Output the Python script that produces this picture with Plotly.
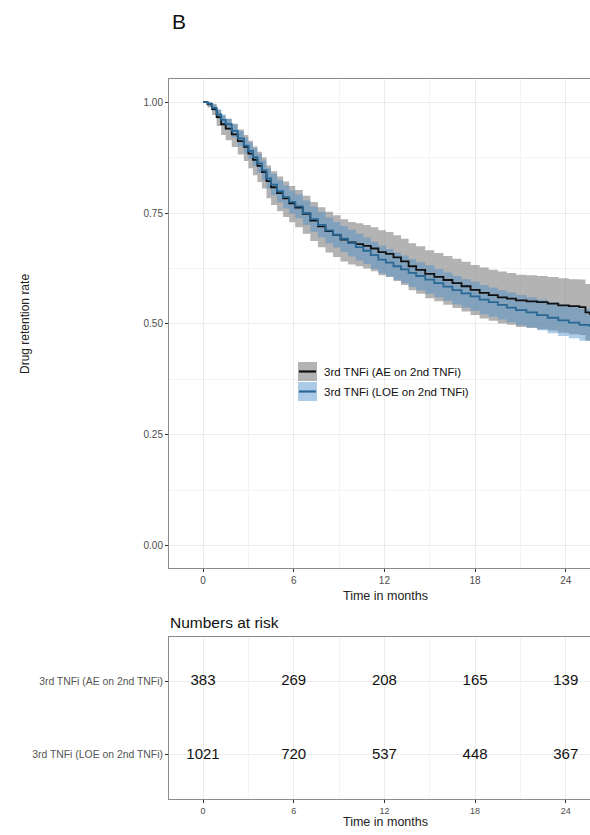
import plotly.graph_objects as go

# ---------------- data ----------------
ae_t = [0.0, 0.3, 0.6, 0.9, 1.2, 1.5, 1.9, 2.3, 2.7, 3.0, 3.3, 3.6, 3.9, 4.2, 4.5, 4.9, 5.3, 5.7,
        6.1, 6.6, 7.1, 7.6, 8.1, 8.6, 9.1, 9.6, 10.1, 10.6, 11.1, 11.6, 12.1, 12.6, 13.1, 13.6,
        14.1, 14.7, 15.3, 15.9, 16.5, 17.1, 17.7, 18.3, 18.9, 19.5, 20.1, 20.7, 21.4, 22.1, 22.8,
        23.5, 24.2, 24.9, 25.3, 25.6]
ae_s = [1.000, 0.995, 0.984, 0.966, 0.950, 0.940, 0.927, 0.912, 0.899, 0.884, 0.870, 0.856, 0.842,
        0.822, 0.808, 0.795, 0.783, 0.772, 0.762, 0.748, 0.733, 0.720, 0.709, 0.700, 0.690, 0.684,
        0.680, 0.676, 0.670, 0.662, 0.658, 0.650, 0.641, 0.630, 0.622, 0.613, 0.606, 0.599, 0.592,
        0.585, 0.577, 0.570, 0.565, 0.560, 0.557, 0.553, 0.551, 0.549, 0.546, 0.542, 0.540, 0.538,
        0.526, 0.520]
ae_lo = [1.000, 0.988, 0.971, 0.946, 0.926, 0.914, 0.899, 0.882, 0.867, 0.851, 0.835, 0.820, 0.805,
         0.783, 0.768, 0.754, 0.741, 0.729, 0.718, 0.703, 0.687, 0.673, 0.661, 0.651, 0.641, 0.634,
         0.630, 0.625, 0.619, 0.610, 0.606, 0.597, 0.588, 0.576, 0.568, 0.558, 0.551, 0.543, 0.536,
         0.528, 0.520, 0.512, 0.507, 0.501, 0.498, 0.493, 0.491, 0.488, 0.485, 0.480, 0.477, 0.475,
         0.462, 0.455]
ae_hi = [1.000, 1.000, 0.996, 0.983, 0.970, 0.962, 0.951, 0.938, 0.926, 0.913, 0.900, 0.888, 0.875,
         0.857, 0.844, 0.832, 0.821, 0.811, 0.802, 0.789, 0.775, 0.763, 0.753, 0.745, 0.736, 0.730,
         0.727, 0.723, 0.718, 0.711, 0.707, 0.700, 0.692, 0.682, 0.675, 0.666, 0.660, 0.653, 0.647,
         0.640, 0.633, 0.627, 0.622, 0.618, 0.615, 0.611, 0.610, 0.608, 0.606, 0.603, 0.601, 0.600,
         0.590, 0.585]

loe_t = [0.0, 0.3, 0.6, 0.9, 1.2, 1.5, 1.9, 2.3, 2.7, 3.0, 3.3, 3.6, 3.9, 4.2, 4.5, 4.9, 5.3, 5.7,
         6.1, 6.6, 7.1, 7.6, 8.1, 8.6, 9.1, 9.6, 10.1, 10.6, 11.1, 11.6, 12.1, 12.6, 13.1, 13.6,
         14.1, 14.7, 15.3, 15.9, 16.5, 17.1, 17.7, 18.3, 18.9, 19.5, 20.1, 20.7, 21.4, 22.1, 22.8,
         23.5, 24.2, 24.9, 25.6]
loe_s = [1.000, 0.996, 0.987, 0.972, 0.960, 0.950, 0.935, 0.918, 0.902, 0.890, 0.876, 0.862, 0.846,
         0.828, 0.814, 0.799, 0.786, 0.775, 0.765, 0.750, 0.736, 0.723, 0.711, 0.701, 0.692, 0.682,
         0.673, 0.665, 0.655, 0.645, 0.638, 0.630, 0.623, 0.615, 0.608, 0.600, 0.592, 0.584, 0.576,
         0.569, 0.562, 0.555, 0.549, 0.543, 0.537, 0.531, 0.526, 0.520, 0.514, 0.508, 0.503, 0.498,
         0.493]
loe_lo = [1.000, 0.992, 0.980, 0.962, 0.948, 0.937, 0.920, 0.901, 0.884, 0.871, 0.856, 0.841, 0.824,
          0.805, 0.790, 0.774, 0.760, 0.749, 0.738, 0.723, 0.708, 0.695, 0.682, 0.672, 0.662, 0.652,
          0.643, 0.635, 0.624, 0.614, 0.607, 0.599, 0.592, 0.583, 0.576, 0.568, 0.560, 0.552, 0.544,
          0.537, 0.530, 0.522, 0.516, 0.510, 0.504, 0.497, 0.492, 0.486, 0.479, 0.473, 0.468, 0.462,
          0.457]
loe_hi = [1.000, 1.000, 0.994, 0.982, 0.972, 0.963, 0.950, 0.935, 0.920, 0.909, 0.896, 0.883, 0.868,
          0.851, 0.838, 0.824, 0.812, 0.801, 0.792, 0.778, 0.764, 0.752, 0.740, 0.730, 0.721, 0.712,
          0.703, 0.695, 0.685, 0.676, 0.669, 0.661, 0.654, 0.646, 0.639, 0.632, 0.624, 0.616, 0.608,
          0.601, 0.595, 0.588, 0.582, 0.576, 0.571, 0.565, 0.560, 0.555, 0.549, 0.543, 0.538, 0.534,
          0.529]

group_labels = ["3rd TNFi (AE on 2nd TNFi)", "3rd TNFi (LOE on 2nd TNFi)"]
risk_times = [0, 6, 12, 18, 24]
risk_ae = [383, 269, 208, 165, 139]
risk_loe = [1021, 720, 537, 448, 367]

x_ticks = [0, 6, 12, 18, 24]
y_ticks = [0.0, 0.25, 0.5, 0.75, 1.0]
y_ticklabels = ["0.00", "0.25", "0.50", "0.75", "1.00"]

# ---------------- styling ----------------
FONT = "Liberation Sans, Arial, sans-serif"
AE_LINE = "#111111"
AE_BAND = "rgba(128,128,128,0.6)"
LOE_LINE = "#2a6896"
LOE_BAND = "rgba(70,140,200,0.45)"
BORDER = "#8c8c8c"
GRID = "#ebebeb"
MINOR = "#f4f4f4"

W, H = 590, 835
ML, MR, MT, MB = 169, 0, 79, 36
PW = W - ML - MR
PH = H - MT - MB


def px(xp):
    return (xp - ML) / PW


def py(yp):
    return (H - MB - yp) / PH


XRANGE = [-2.25, 25.6]

fig = go.Figure()

# confidence bands
fig.add_trace(go.Scatter(x=ae_t, y=ae_lo, mode="lines", line=dict(width=0, shape="hv"),
                         hoverinfo="skip", showlegend=False, xaxis="x", yaxis="y"))
fig.add_trace(go.Scatter(x=ae_t, y=ae_hi, mode="lines", line=dict(width=0, shape="hv"),
                         fill="tonexty", fillcolor=AE_BAND, hoverinfo="skip", showlegend=False,
                         xaxis="x", yaxis="y"))
fig.add_trace(go.Scatter(x=loe_t, y=loe_lo, mode="lines", line=dict(width=0, shape="hv"),
                         hoverinfo="skip", showlegend=False, xaxis="x", yaxis="y"))
fig.add_trace(go.Scatter(x=loe_t, y=loe_hi, mode="lines", line=dict(width=0, shape="hv"),
                         fill="tonexty", fillcolor=LOE_BAND, hoverinfo="skip", showlegend=False,
                         xaxis="x", yaxis="y"))
# survival curves
fig.add_trace(go.Scatter(x=ae_t, y=ae_s, mode="lines", line=dict(color=AE_LINE, width=1.8, shape="hv"),
                         name=group_labels[0], showlegend=False, xaxis="x", yaxis="y"))
fig.add_trace(go.Scatter(x=loe_t, y=loe_s, mode="lines", line=dict(color=LOE_LINE, width=1.8, shape="hv"),
                         name=group_labels[1], showlegend=False, xaxis="x", yaxis="y"))

# risk table
fig.add_trace(go.Scatter(x=risk_times, y=[2] * len(risk_times), mode="text",
                         text=[str(v) for v in risk_ae], textfont=dict(size=15, color="#111111", family=FONT),
                         hoverinfo="skip", showlegend=False, xaxis="x2", yaxis="y2"))
fig.add_trace(go.Scatter(x=risk_times, y=[1] * len(risk_times), mode="text",
                         text=[str(v) for v in risk_loe], textfont=dict(size=15, color="#111111", family=FONT),
                         hoverinfo="skip", showlegend=False, xaxis="x2", yaxis="y2"))

top_dom = [py(568), 1.0]
tab_dom = [0.0, py(637)]

axis_common = dict(showline=True, linecolor=BORDER, linewidth=1, ticks="outside", ticklen=3,
                   tickcolor="#333333", zeroline=False, showgrid=True, gridcolor=GRID, gridwidth=1)

fig.update_layout(
    width=W, height=H,
    margin=dict(l=ML, r=MR, t=MT, b=MB),
    paper_bgcolor="white", plot_bgcolor="white",
    font=dict(family=FONT, color="#4d4d4d"),
    xaxis=dict(domain=[0, 1], anchor="y", range=XRANGE, tickvals=x_ticks, mirror=True,
               tickfont=dict(size=10, color="#4d4d4d"),
               minor=dict(tick0=0, dtick=3, showgrid=True, gridcolor=MINOR, gridwidth=0.6, ticks=""),
               **axis_common),
    yaxis=dict(domain=top_dom, anchor="x", range=[-0.05, 1.052], tickvals=y_ticks,
               ticktext=y_ticklabels, tickfont=dict(size=10, color="#4d4d4d"),
               minor=dict(tick0=0, dtick=0.125, showgrid=True, gridcolor=MINOR, gridwidth=0.6, ticks=""),
               **axis_common),
    xaxis2=dict(domain=[0, 1], anchor="y2", range=XRANGE, tickvals=x_ticks, mirror=True,
                tickfont=dict(size=9, color="#4d4d4d"),
                minor=dict(tick0=0, dtick=3, showgrid=True, gridcolor=MINOR, gridwidth=0.6, ticks=""),
                **axis_common),
    yaxis2=dict(domain=tab_dom, anchor="x2", range=[0.4, 2.6], tickvals=[2, 1],
                ticktext=group_labels, tickfont=dict(size=10.4, color="#555555"),
                **axis_common),
)

ann = [
    dict(text="B", x=px(170), y=py(21), xanchor="left", yanchor="middle",
         font=dict(size=21, color="#111111")),
    dict(text="Drug retention rate", x=px(25), y=py(324), textangle=-90, xanchor="center",
         yanchor="middle", font=dict(size=12, color="#222222")),
    dict(text="Time in months", x=px(385), y=py(596), xanchor="center", yanchor="middle",
         font=dict(size=12.5, color="#222222")),
    dict(text="Numbers at risk", x=px(168), y=py(622), xanchor="left", yanchor="middle",
         font=dict(size=15.5, color="#111111")),
    dict(text="Time in months", x=px(385), y=py(822), xanchor="center", yanchor="middle",
         font=dict(size=12.5, color="#222222")),
    dict(text=group_labels[0], x=px(322), y=py(372), xanchor="left", yanchor="middle",
         font=dict(size=11.5, color="#111111")),
    dict(text=group_labels[1], x=px(322), y=py(392), xanchor="left", yanchor="middle",
         font=dict(size=11.5, color="#111111")),
]
for a in ann:
    a.update(xref="paper", yref="paper", showarrow=False)
fig.update_layout(annotations=ann)

# legend keys (drawn as shapes)
shapes = [
    dict(type="rect", x0=px(298), x1=px(317), y0=py(381), y1=py(362), fillcolor=AE_BAND,
         line=dict(width=0)),
    dict(type="line", x0=px(299), x1=px(316), y0=py(371.5), y1=py(371.5),
         line=dict(color=AE_LINE, width=2.2)),
    dict(type="rect", x0=px(298), x1=px(317), y0=py(401), y1=py(382), fillcolor=LOE_BAND,
         line=dict(width=0)),
    dict(type="line", x0=px(299), x1=px(316), y0=py(391.5), y1=py(391.5),
         line=dict(color=LOE_LINE, width=2.2)),
]
for s in shapes:
    s.update(xref="paper", yref="paper")
fig.update_layout(shapes=shapes)

fig.write_html(
    "out.html",
    config={"displayModeBar": False},
    post_script="document.body.style.margin='0px';document.body.style.overflow='hidden';",
)
